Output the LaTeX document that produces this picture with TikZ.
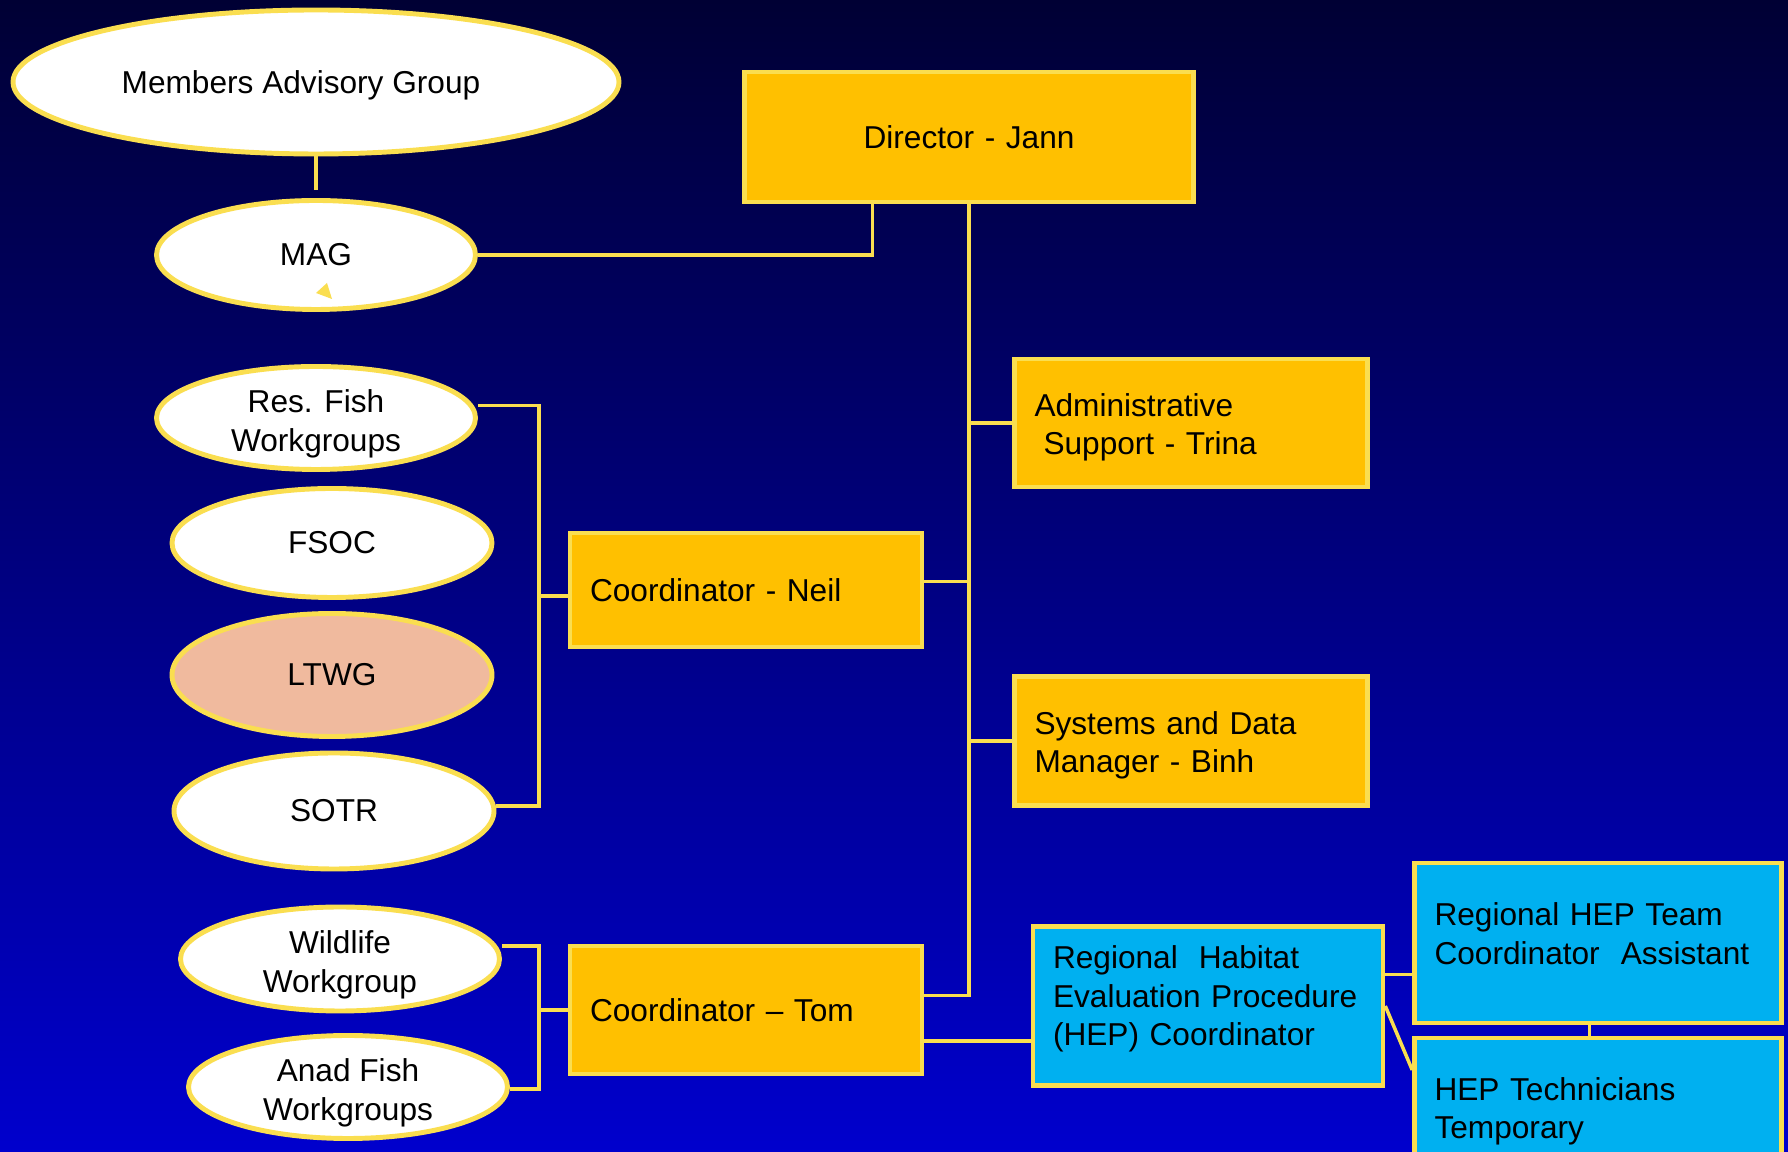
\documentclass[tikz,border=0pt]{standalone}
\usepackage{fontspec}
\setmainfont{Liberation Sans}
\usetikzlibrary{shapes.geometric}
\definecolor{linegold}{RGB}{250,222,80}
\definecolor{boxgold}{RGB}{255,192,0}
\definecolor{hepblue}{RGB}{0,176,240}
\definecolor{ltwgpeach}{RGB}{240,186,158}
\definecolor{bgtop}{RGB}{0,0,52}
\definecolor{bgbottom}{RGB}{0,0,205}

\begin{document}
\begin{tikzpicture}[
    x = 0.1mm, y = -0.1mm,
    font = \fontsize{9pt}{10.9pt}\selectfont,
    group/.style 2 args = {ellipse, draw = linegold, line width = 1.4pt, fill = white,
        inner xsep = 0pt, inner ysep = -4pt, align = center, minimum width = #1, minimum height = #2},
    staff/.style 2 args = {rectangle, draw = linegold, line width = 1.3pt, fill = boxgold,
        inner xsep = 0.2cm, align = left, text width = #1, minimum height = #2},
    link/.style = {draw = linegold, line width = 1pt}
]
\useasboundingbox (0,0) rectangle (1788,1152);
\clip (0,0) rectangle (1788,1152);
\shade[top color = bgtop, bottom color = bgbottom] (0,0) rectangle (1788,1152);

% groups
\node[group = {6.06cm}{1.44cm}] (adv) at (316,82) {\rule{0pt}{8.5pt}Members Advisory Group\hspace*{0.3cm}};
\node[group = {3.19cm}{1.09cm}] (mag) at (316,255) {MAG};
\node[group = {3.19cm}{1.03cm}] (resfish) at (316,418) {\rule{0pt}{9.8pt}Res. Fish\\Workgroups};
\node[group = {3.2cm}{1.09cm}] (fsoc) at (332,543) {FSOC};
\node[group = {3.2cm}{1.23cm}] (ltwg) at (332,675) [fill = ltwgpeach] {LTWG};
\node[group = {3.2cm}{1.16cm}] (sotr) at (334,811) {SOTR};
\node[group = {3.19cm}{1.04cm}] (wild) at (340,959) {\rule{0pt}{9.8pt}Wildlife\\Workgroup};
\node[group = {3.19cm}{1.03cm}] (anad) at (348,1087) {\rule{0pt}{9.8pt}Anad Fish\\Workgroups};
\fill[linegold] (316,293) -- (327,283) -- (332,299) -- cycle;

% staff
\node[staff = {4.09cm}{1.3cm}] (dir) at (969,137) [align = center] {Director - Jann};
\node[staff = {3.13cm}{1.28cm}] (admin) at (1191,423) {\rule{0pt}{8.9pt}Administrative\\\hspace*{0.09cm}Support - Trina};
\node[staff = {3.12cm}{1.14cm}] (neil) at (746,590) {Coordinator - Neil};
\node[staff = {3.13cm}{1.29cm}] (sysd) at (1191,741) {\rule{0pt}{8.9pt}Systems and Data\\Manager - Binh};
\node[staff = {3.12cm}{1.28cm}] (tom) at (746,1010) {Coordinator -- Tom};
\node[staff = {3.1cm}{1.59cm}] (hepc) at (1208,1006) [fill = hepblue] {Regional\ \ Habitat\\Evaluation Procedure\\(HEP) Coordinator\rule[-5.8pt]{0pt}{5.8pt}};
\node[staff = {3.27cm}{1.6cm}] (team) at (1598,943) [fill = hepblue] {Regional HEP Team\\Coordinator\ \ Assistant\rule[-5.4pt]{0pt}{5.4pt}};
\node[staff = {3.27cm}{1.38cm}] (tech) at (1598,1107) [fill = hepblue] {\rule{0pt}{8.9pt}HEP Technicians\\Temporary};

% lines
\coordinate (nb) at (539,596);
\coordinate (tb) at (539,1010);
\draw[link, shorten > = 0.08cm] (adv.south) -- (mag.north);
\draw[link] (mag.east) -| ([xshift = -0.965cm]dir.south);
\draw[link] (dir.south) |- ([yshift = 0.145cm]tom.east);
\draw[link] (admin.west) -- (admin.west -| dir.south);
\draw[link] ([yshift = 0.085cm]neil.east) -- ([yshift = 0.085cm]neil.east -| dir.south);
\draw[link] (sysd.west) -- (sysd.west -| dir.south);
\draw[link] ([yshift = -0.31cm]tom.east) -- ([yshift = -0.31cm]tom.east -| hepc.west);
\draw[link] ([yshift = 0.315cm]hepc.east) -- ([yshift = 0.315cm]hepc.east -| team.west);
\draw[link] (hepc.east) -- ([yshift = 0.37cm]tech.west);
\draw[link] ([xshift = -0.085cm]team.south) -- ([xshift = -0.085cm]team.south |- tech.north);
\draw[link] ([yshift = 0.125cm]resfish.east) -| (nb) |- ([yshift = 0.05cm]sotr.east);
\draw[link] (nb) -- (nb -| neil.west);
\draw[link] ([yshift = 0.13cm]wild.east) -| (tb) |- ([yshift = -0.02cm]anad.east);
\draw[link] (tb) -- (tb -| tom.west);

\end{tikzpicture}
\end{document}
